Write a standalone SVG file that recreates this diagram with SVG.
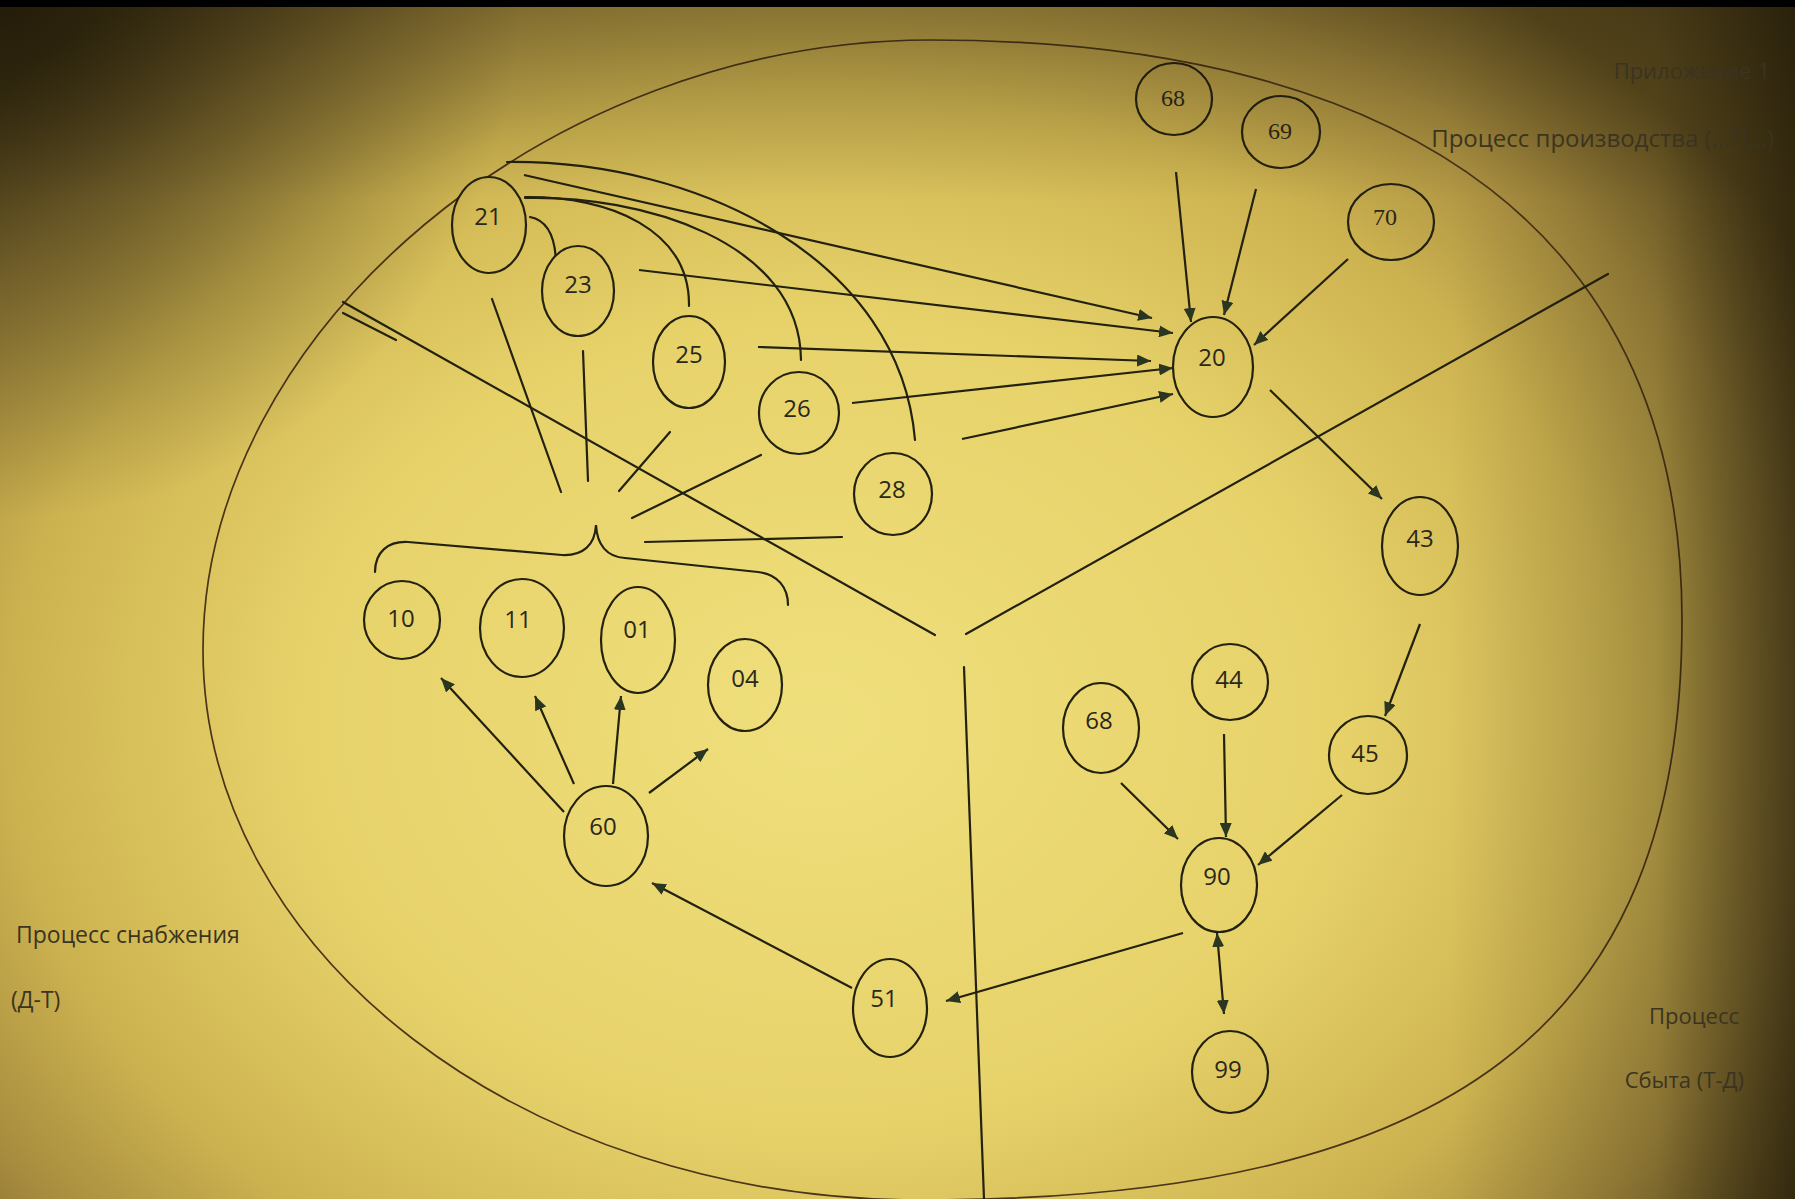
<svg xmlns="http://www.w3.org/2000/svg" width="1795" height="1199" viewBox="0 0 1795 1199">
<defs>
  <radialGradient id="bg" gradientUnits="userSpaceOnUse" cx="0" cy="0" r="1" gradientTransform="translate(820,720) scale(1150,900)">
    <stop offset="0" stop-color="#efdf7c"/>
    <stop offset="0.45" stop-color="#e7d26a"/>
    <stop offset="0.7" stop-color="#cdb350"/>
    <stop offset="0.86" stop-color="#a68b3e"/>
    <stop offset="1" stop-color="#6e5a24"/>
  </radialGradient>
  <radialGradient id="tl" gradientUnits="userSpaceOnUse" cx="0" cy="0" r="520">
    <stop offset="0" stop-color="#120e04" stop-opacity="0.75"/>
    <stop offset="1" stop-color="#120e04" stop-opacity="0"/>
  </radialGradient>
  <linearGradient id="rt" gradientUnits="userSpaceOnUse" x1="1450" y1="0" x2="1795" y2="0">
    <stop offset="0" stop-color="#140f04" stop-opacity="0"/>
    <stop offset="0.6" stop-color="#140f04" stop-opacity="0.2"/>
    <stop offset="1" stop-color="#140f04" stop-opacity="0.65"/>
  </linearGradient>
  <linearGradient id="tp" gradientUnits="userSpaceOnUse" x1="0" y1="0" x2="0" y2="200">
    <stop offset="0" stop-color="#140f04" stop-opacity="0.3"/>
    <stop offset="1" stop-color="#140f04" stop-opacity="0"/>
  </linearGradient>
  <marker id="ah" viewBox="0 0 14 12" markerWidth="14" markerHeight="12" refX="14" refY="6" orient="auto-start-reverse" markerUnits="userSpaceOnUse">
    <path d="M0,0 L14,6 L0,12 z" fill="#2b3620"/>
  </marker>
  <style>
    .ln{stroke:#23210f;stroke-width:2.2;fill:none;stroke-linecap:round}
    .ar{stroke:#23210f;stroke-width:2.2;fill:none;marker-end:url(#ah)}
    .nd{fill:url(#bg);stroke:#23210f;stroke-width:2.2}
    .nt{font-family:"Open Sans","Noto Sans",sans-serif;font-size:24px;fill:#2a2818;text-anchor:middle}
    .ns{font-family:"Liberation Serif","DejaVu Serif",serif;font-size:24px;fill:#2a2818;text-anchor:middle}
    .lb{font-family:"Open Sans","Noto Sans",sans-serif;fill:#3a3420}
  </style>
</defs>

<rect x="0" y="0" width="1795" height="1199" fill="url(#bg)"/>

<g id="frame">
  <path d="M203,650 C203,330 550,40 930,40 C1419,40 1682,243 1682,620 C1682,1026 1453,1200 920,1200 C524,1200 203,954 203,650 Z" fill="none" stroke="#4a3518" stroke-width="1.7"/>
  <line class="ln" x1="343" y1="302" x2="935" y2="635"/>
  <line class="ln" x1="343" y1="313" x2="396" y2="340"/>
  <line class="ln" x1="1608" y1="274" x2="966" y2="634"/>
  <line class="ln" x1="964" y1="667" x2="984" y2="1199"/>
</g>

<g id="connectors">
  <line class="ar" x1="524" y1="175" x2="1152" y2="318"/>
  <line class="ar" x1="639" y1="270" x2="1173" y2="333"/>
  <line class="ar" x1="758" y1="347" x2="1151" y2="361"/>
  <line class="ar" x1="852" y1="403" x2="1173" y2="368"/>
  <line class="ar" x1="962" y1="439" x2="1173" y2="394"/>
  <line class="ar" x1="1176" y1="172" x2="1191" y2="322"/>
  <line class="ar" x1="1256" y1="189" x2="1224" y2="315"/>
  <line class="ar" x1="1348" y1="259" x2="1254" y2="345"/>
  <line class="ar" x1="1270" y1="390" x2="1382" y2="499"/>
  <line class="ar" x1="1420" y1="624" x2="1385" y2="716"/>
  <line class="ar" x1="1121" y1="783" x2="1178" y2="839"/>
  <line class="ar" x1="1224" y1="734" x2="1226" y2="837"/>
  <line class="ar" x1="1342" y1="795" x2="1258" y2="865"/>
  <line class="ar" x1="1183" y1="933" x2="946" y2="1001"/>
  <line class="ar" x1="1217" y1="933" x2="1224" y2="1014" marker-start="url(#ah)"/>
  <line class="ar" x1="852" y1="988" x2="652" y2="883"/>
  <line class="ar" x1="564" y1="812" x2="441" y2="678"/>
  <line class="ar" x1="574" y1="784" x2="535" y2="696"/>
  <line class="ar" x1="613" y1="784" x2="621" y2="696"/>
  <line class="ar" x1="649" y1="793" x2="708" y2="749"/>
  <line class="ln" x1="492" y1="299" x2="561" y2="492"/>
  <line class="ln" x1="583" y1="351" x2="588" y2="481"/>
  <line class="ln" x1="670" y1="432" x2="619" y2="491"/>
  <line class="ln" x1="761" y1="455" x2="632" y2="518"/>
  <line class="ln" x1="842" y1="537" x2="645" y2="542"/>
  <path class="ln" d="M530,217 Q556,222 556,266"/>
  <path class="ln" d="M525,197 C610,196 690,230 689,306"/>
  <path class="ln" d="M525,198 C640,195 800,240 801,360"/>
  <path class="ln" d="M507,162 C700,160 900,260 915,440"/>
  <path class="ln" d="M375,572 C375,552 388,541 408,542 L562,555 C583,556 595,545 596,525 C597,545 607,557 625,558 L758,572 C778,574 788,588 788,605"/>
</g>

<g id="n21"><ellipse class="nd" cx="489" cy="225" rx="37" ry="48"/><text class="nt" x="488" y="224.5">21</text></g>
<g id="n23"><ellipse class="nd" cx="578" cy="291" rx="36" ry="45"/><text class="nt" x="578" y="292.5">23</text></g>
<g id="n25"><ellipse class="nd" cx="689" cy="362" rx="36" ry="46"/><text class="nt" x="689" y="362.5">25</text></g>
<g id="n26"><ellipse class="nd" cx="799" cy="413" rx="40" ry="41"/><text class="nt" x="797" y="416.5">26</text></g>
<g id="n28"><ellipse class="nd" cx="893" cy="494" rx="39" ry="41"/><text class="nt" x="892" y="497.5">28</text></g>
<g id="n20"><ellipse class="nd" cx="1213" cy="367" rx="40" ry="50"/><text class="nt" x="1212" y="365.5">20</text></g>
<g id="n68a"><ellipse class="nd" cx="1174" cy="99" rx="38" ry="36"/><text class="ns" x="1173" y="106">68</text></g>
<g id="n69"><ellipse class="nd" cx="1281" cy="132" rx="39" ry="36"/><text class="ns" x="1280" y="139">69</text></g>
<g id="n70"><ellipse class="nd" cx="1391" cy="222" rx="43" ry="38"/><text class="ns" x="1385" y="225">70</text></g>
<g id="n43"><ellipse class="nd" cx="1420" cy="546" rx="38" ry="49"/><text class="nt" x="1420" y="546.5">43</text></g>
<g id="n10"><ellipse class="nd" cx="402" cy="620" rx="38" ry="39"/><text class="nt" x="401" y="626.5">10</text></g>
<g id="n11"><ellipse class="nd" cx="522" cy="628" rx="42" ry="49"/><text class="nt" x="518" y="627.5">11</text></g>
<g id="n01"><ellipse class="nd" cx="638" cy="640" rx="37" ry="53"/><text class="nt" x="637" y="637.5">01</text></g>
<g id="n04"><ellipse class="nd" cx="745" cy="685" rx="37" ry="46"/><text class="nt" x="745" y="686.5">04</text></g>
<g id="n60"><ellipse class="nd" cx="606" cy="836" rx="42" ry="50"/><text class="nt" x="603" y="834.5">60</text></g>
<g id="n51"><ellipse class="nd" cx="890" cy="1008" rx="37" ry="49"/><text class="nt" x="884" y="1006.5">51</text></g>
<g id="n68b"><ellipse class="nd" cx="1101" cy="728" rx="38" ry="45"/><text class="nt" x="1099" y="728.5">68</text></g>
<g id="n44"><ellipse class="nd" cx="1230" cy="682" rx="38" ry="38"/><text class="nt" x="1229" y="687.5">44</text></g>
<g id="n45"><ellipse class="nd" cx="1368" cy="755" rx="39" ry="39"/><text class="nt" x="1365" y="761.5">45</text></g>
<g id="n90"><ellipse class="nd" cx="1219" cy="885" rx="38" ry="47"/><text class="nt" x="1217" y="884.5">90</text></g>
<g id="n99"><ellipse class="nd" cx="1230" cy="1072" rx="38" ry="41"/><text class="nt" x="1228" y="1077.5">99</text></g>

<g id="vignette" pointer-events="none">
  <rect x="0" y="0" width="1795" height="1199" fill="url(#tl)"/>
  <rect x="0" y="0" width="1795" height="1199" fill="url(#rt)"/>
  <rect x="0" y="0" width="1795" height="1199" fill="url(#tp)"/>
  <rect x="0" y="0" width="1795" height="7" fill="#000"/>
</g>

<g id="labels">
  <text class="lb" x="1770" y="79" font-size="22" text-anchor="end" fill="#4a4634">Приложение 1</text>
  <text class="lb" x="1774" y="147" font-size="24" text-anchor="end" fill="#2c2818">Процесс производства (...П...)</text>
  <text class="lb" x="16" y="943" font-size="23">Процесс снабжения</text>
  <text class="lb" x="11" y="1008" font-size="23">(Д-Т)</text>
  <text class="lb" x="1739" y="1024" font-size="22" text-anchor="end">Процесс</text>
  <text class="lb" x="1744" y="1088" font-size="22" text-anchor="end">Сбыта (Т-Д)</text>
</g>
</svg>
